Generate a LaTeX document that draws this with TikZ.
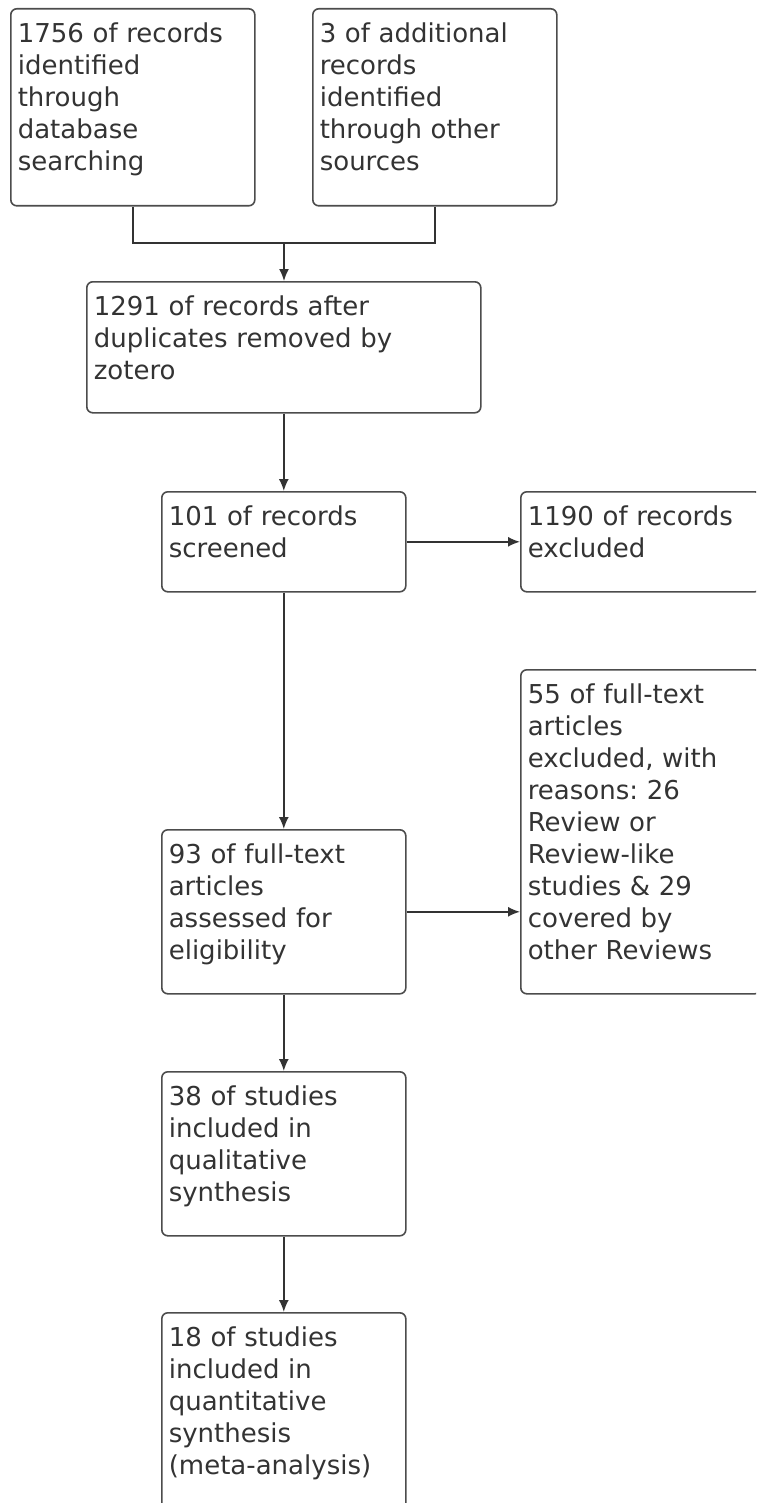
\documentclass[tikz,border=0pt]{standalone}
\usepackage{fontspec}
\setmainfont{DejaVu Sans}
\usepackage{tikz}
\usetikzlibrary{arrows.meta}
\usepackage{xcolor}
\frenchspacing

\begin{document}
\begin{tikzpicture}[x=0.5pt, y=-0.5pt,
  every node/.style={draw=black!70, line width=0.8pt, rounded corners=3pt, anchor=north west, align=left, inner xsep=3.5pt, inner ysep=7pt, text height=10pt, text=black!80, font=\fontsize{13}{16}\selectfont},
  link/.style={draw=black!80, line width=0.8pt},
  arr/.style={link, -{Latex[length=6pt,width=5pt]}}]
\clip (0,0) rectangle (756,1503);

% identification
\node[text width=115pt, text depth=74.5pt] (db) at (10,8) {1756 of records\\identified\\through\\database\\searching};
\node[text width=115pt, text depth=74.5pt] (other) at (312,8) {3 of additional\\records\\identified\\through other\\sources};
\coordinate (merge) at (284,243);
\draw[link] (db.south) |- (merge) -| (other.south);

% screening
\node[text width=190pt, text depth=41.5pt] (dedup) at (86,281) {1291 of records after\\duplicates removed by\\zotero};
\node[text width=115pt, text depth=26pt] (screen) at (161,491) {101 of records\\screened};
\node[text width=113pt, text depth=26pt] (excl) at (520,491) {1190 of records\\excluded};
\draw[arr] (merge) -- (merge |- dedup.north);
\draw[arr] (dedup) -- (screen);
\draw[arr] (screen) -- (excl);

% eligibility
\node[text width=115pt, text depth=58pt] (full) at (161,829) {93 of full-text\\articles\\assessed for\\eligibility};
\node[text width=113pt, text depth=138pt] (fullex) at (520,669) {55 of full-text\\articles\\excluded, with\\reasons: 26\\Review or\\Review-like\\studies \& 29\\covered by\\other Reviews};
\draw[arr] (screen) -- (full);
\draw[arr] (full.east) -- (full.east -| fullex.west);

% included
\node[text width=115pt, text depth=58pt] (qual) at (161,1071) {38 of studies\\included in\\qualitative\\synthesis};
\node[text width=115pt, text depth=76pt] (quant) at (161,1312) {18 of studies\\included in\\quantitative\\synthesis\\(meta-analysis)};
\draw[arr] (full) -- (qual);
\draw[arr] (qual) -- (quant);
\end{tikzpicture}
\end{document}
